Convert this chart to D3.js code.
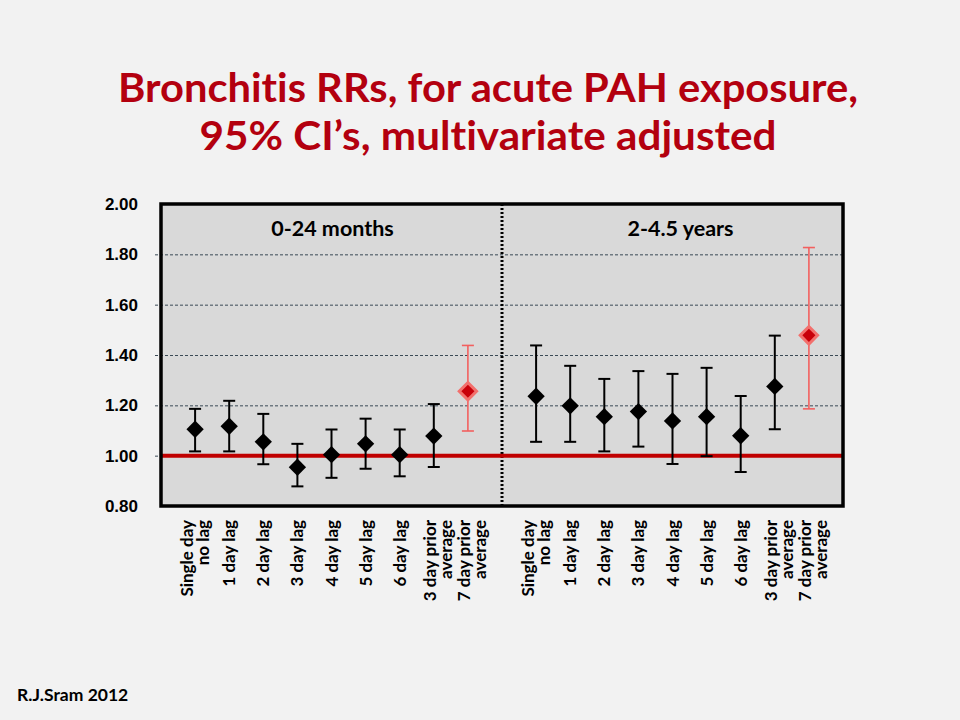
<!DOCTYPE html>
<html>
<head>
<meta charset="utf-8">
<script src="https://cdn.jsdelivr.net/npm/d3@7"></script>
<style>
  body { margin: 0; background: #f2f2f2; }
  svg { display: block; font-variant-ligatures: none; }
  .title { font-family: Lato, "Open Sans", sans-serif; font-weight: bold; fill: #b3000f; }
  .tick text { font-family: "Liberation Sans", Arial, sans-serif; font-weight: bold; font-size: 17px; fill: #000; }
  .xlab { font-family: Lato, "Open Sans", sans-serif; font-weight: bold; font-size: 17px; fill: #000; }
  .group-label { font-family: Lato, "Open Sans", sans-serif; font-weight: bold; font-size: 21.5px; fill: #000; }
</style>
</head>
<body>
<svg width="960" height="720"></svg>
<script>
  // DATA
  const categories = ["Single day|no lag", "1 day lag", "2 day lag", "3 day lag", "4 day lag",
    "5 day lag", "6 day lag", "3 day prior|average", "7 day prior|average"];
  const groups = ["0-24 months", "2-4.5 years"];
  const rrInfant = [1.105, 1.117, 1.055, 0.954, 1.004, 1.047, 1.004, 1.078, 1.256];
  const lowInfant = [1.017, 1.017, 0.966, 0.878, 0.912, 0.948, 0.918, 0.955, 1.098];
  const highInfant = [1.186, 1.218, 1.166, 1.047, 1.104, 1.147, 1.104, 1.205, 1.438];
  const rrPreschool = [1.236, 1.198, 1.155, 1.175, 1.138, 1.155, 1.079, 1.275, 1.478];
  const lowPreschool = [1.055, 1.055, 1.017, 1.036, 0.967, 0.998, 0.935, 1.105, 1.186];
  const highPreschool = [1.438, 1.357, 1.305, 1.336, 1.325, 1.349, 1.237, 1.477, 1.827];
  const yTicks = [0.8, 1.0, 1.2, 1.4, 1.6, 1.8, 2.0];
  const titleLines = ["Bronchitis RRs, for acute PAH exposure,", "95% CI\u2019s, multivariate adjusted"];
  const highlightIndex = 8; // 7 day prior average drawn in red
  const reference = 1.0;

  const svg = d3.select("svg");
  const width = +svg.attr("width");
  const height = +svg.attr("height");
  const margin = { top: 204, right: 117, bottom: 214, left: 161 };
  const innerWidth = width - margin.left - margin.right;
  const innerHeight = height - margin.top - margin.bottom;

  svg.append("rect").attr("width", width).attr("height", height).attr("fill", "#f2f2f2");

  // rows for both age groups
  const rows = [];
  [[rrInfant, lowInfant, highInfant], [rrPreschool, lowPreschool, highPreschool]].forEach((s, g) => {
    categories.forEach((c, i) => {
      rows.push({ key: g + "-" + i, group: g, index: i, label: c, rr: s[0][i], low: s[1][i], high: s[2][i] });
    });
  });
  const slots = rows.filter(d => d.group === 0).map(d => d.key)
    .concat(["gap"], rows.filter(d => d.group === 1).map(d => d.key));

  // SCALES
  const xScale = d3.scalePoint().domain(slots).range([0, innerWidth]).padding(1);
  const yScale = d3.scaleLinear().domain([0.8, 2.0]).range([innerHeight, 0]);

  // TITLE (two centred lines, squeezed to the reference widths)
  const titleWidths = [740, 577];
  svg.selectAll(".title").data(titleLines).enter().append("text")
    .attr("class", "title")
    .attr("x", 488)
    .attr("y", (d, i) => 102 + i * 48)
    .attr("text-anchor", "middle")
    .attr("font-size", 41)
    .attr("textLength", (d, i) => titleWidths[i])
    .attr("lengthAdjust", "spacingAndGlyphs")
    .text(d => d);

  const g = svg.append("g").attr("transform", `translate(${margin.left},${margin.top})`);

  g.append("rect").attr("width", innerWidth).attr("height", innerHeight).attr("fill", "#d9d9d9");

  // Y AXIS with dashed grid
  const yAxis = d3.axisLeft(yScale).tickValues(yTicks).tickFormat(d3.format(".2f"))
    .tickSize(-innerWidth - 6).tickPadding(20);
  const yAxisG = g.append("g").attr("transform", "translate(-6,0)").call(yAxis);
  yAxisG.select(".domain").remove();
  yAxisG.selectAll(".tick line")
    .attr("stroke", "#3a4a55").attr("stroke-width", 1).attr("stroke-dasharray", "3,2")
    .attr("display", d => (d === 0.8 || d === 2.0) ? "none" : null);
  yAxisG.selectAll(".tick text").attr("x", -17);

  // divider between age groups
  g.append("line")
    .attr("x1", xScale("gap")).attr("x2", xScale("gap"))
    .attr("y1", 0).attr("y2", innerHeight)
    .attr("stroke", "#000").attr("stroke-width", 3).attr("stroke-dasharray", "2,2");

  // reference line RR = 1
  g.append("line")
    .attr("x1", 0).attr("x2", innerWidth)
    .attr("y1", yScale(reference)).attr("y2", yScale(reference))
    .attr("stroke", "#c00000").attr("stroke-width", 4);

  // group labels
  g.selectAll(".group-label")
    .data(groups)
    .enter()
    .append("text")
    .attr("class", "group-label")
    .attr("text-anchor", "middle")
    .attr("x", (d, i) => i === 0 ? (xScale("0-0") + xScale("0-8")) / 2 + 1 : (xScale("1-0") + xScale("1-8")) / 2 + 8)
    .attr("y", 32)
    .text(d => d);

  // ERROR BARS
  const isRed = d => d.index === highlightIndex;
  const bars = g.selectAll(".ci").data(rows).enter().append("g").attr("class", "ci")
    .attr("stroke", d => isRed(d) ? "#f2605f" : "#000")
    .attr("stroke-width", d => isRed(d) ? 1.6 : 2);
  bars.append("line")
    .attr("x1", d => xScale(d.key)).attr("x2", d => xScale(d.key))
    .attr("y1", d => yScale(d.low)).attr("y2", d => yScale(d.high));
  bars.append("line")
    .attr("x1", d => xScale(d.key) - 6).attr("x2", d => xScale(d.key) + 6)
    .attr("y1", d => yScale(d.high)).attr("y2", d => yScale(d.high));
  bars.append("line")
    .attr("x1", d => xScale(d.key) - 6).attr("x2", d => xScale(d.key) + 6)
    .attr("y1", d => yScale(d.low)).attr("y2", d => yScale(d.low));

  // DIAMOND MARKERS
  const diamond = d3.symbol().type(d3.symbolSquare).size(150);
  g.selectAll(".pt").data(rows).enter().append("path").attr("class", "pt")
    .attr("d", diamond)
    .attr("transform", d => `translate(${xScale(d.key)},${yScale(d.rr)}) rotate(45)`)
    .attr("fill", d => isRed(d) ? "#c8000a" : "#000")
    .attr("stroke", d => isRed(d) ? "#f2706d" : "none")
    .attr("stroke-width", 3);

  // plot border
  g.append("rect").attr("width", innerWidth).attr("height", innerHeight)
    .attr("fill", "none").attr("stroke", "#000").attr("stroke-width", 3.5);

  // X CATEGORY LABELS (rotated)
  const xl = g.selectAll(".xlab").data(rows).enter().append("text").attr("class", "xlab")
    .attr("text-anchor", "end")
    .attr("transform", d => `translate(${xScale(d.key) + (d.index >= 7 ? 4 : 0)},${innerHeight + 14}) rotate(-90)`);
  xl.each(function (d) {
    const lines = d.label.split("|");
    const t = d3.select(this);
    lines.forEach((ln, j) => {
      t.append("tspan").attr("x", 0)
        .attr("y", (j - (lines.length - 1) / 2) * 16 + 6)
        .text(ln);
    });
  });

  // credit
  svg.append("text").attr("class", "xlab").attr("x", 17).attr("y", 701)
    .style("font-size", "17.5px").text("R.J.Sram 2012");
</script>
</body>
</html>
